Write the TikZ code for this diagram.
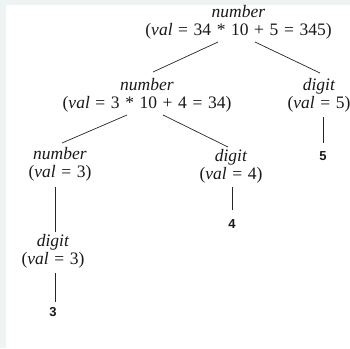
\documentclass[tikz,border=0pt]{standalone}
\usepackage{fontspec}
\setmainfont{Liberation Serif}
\newfontfamily\leaffont{Liberation Sans}
\usetikzlibrary{positioning,calc}
\definecolor{stripcol}{HTML}{EEF4F4}
\newcommand{\ntsize}{\fontsize{17.5}{18}\selectfont\spaceskip=0.32em\relax}

\begin{document}
\begin{tikzpicture}[x=1pt,y=-1pt,
  nt/.style={align=center,inner sep=0pt,text=black!90,font=\ntsize},
  leaf/.style={inner sep=0pt,text=black!90,font=\leaffont\bfseries\fontsize{13}{15}\selectfont},
  edge/.style={line width=0.7pt,black!85}]
  % page and the light strip at the edges
  \useasboundingbox (0,0) rectangle (350,348);
  \fill[white] (0,0) rectangle (350,348);
  \fill[stripcol] (0,0) rectangle (6,348);
  \fill[stripcol] (0,0) rectangle (350,5);
  % parse tree nodes
  \node[nt] (root) at (238.5,22) {\textit{number}\\(\textit{val} = 34 * 10 + 5 = 345)};
  \node[nt] (num2) at (147,95) {\textit{number}\\(\textit{val} = 3 * 10 + 4 = 34)};
  \node[nt] (dig5) at (319,95) {\textit{digit}\\(\textit{val} = 5)};
  \node[nt] (num3) at (60,164) {\textit{number}\\(\textit{val} = 3)};
  \node[nt] (dig4) at (231,166) {\textit{digit}\\(\textit{val} = 4)};
  \node[nt] (dig3) at (53,251) {\textit{digit}\\(\textit{val} = 3)};
  % leaves
  \node[leaf] (five) at (323,156) {5};
  \node[leaf] (four) at (232,224) {4};
  \node[leaf] (three) at (53,312) {3};
  % edges
  \draw[edge] ($(root)+(-20.5,20)$) -- ($(num2)+(6,-23)$);
  \draw[edge] ($(root)+(16.5,20)$) -- ($(dig5)+(1,-22)$);
  \draw[edge] ($(num2)+(-20,20)$) -- ($(num3)+(2,-21)$);
  \draw[edge] ($(num2)+(16,20)$) -- ($(dig4)+(-3,-19)$);
  \draw[edge] ($(dig5)+(4,22)$) -- ($(five)+(0,-13)$);
  \draw[edge] ($(dig4)+(1,21)$) -- ($(four)+(0,-14)$);
  \draw[edge] ($(num3)+(-5,23)$) -- ($(dig3)+(2,-19)$);
  \draw[edge] ($(dig3)+(2,22)$) -- ($(three)+(2,-10)$);
\end{tikzpicture}
\end{document}
